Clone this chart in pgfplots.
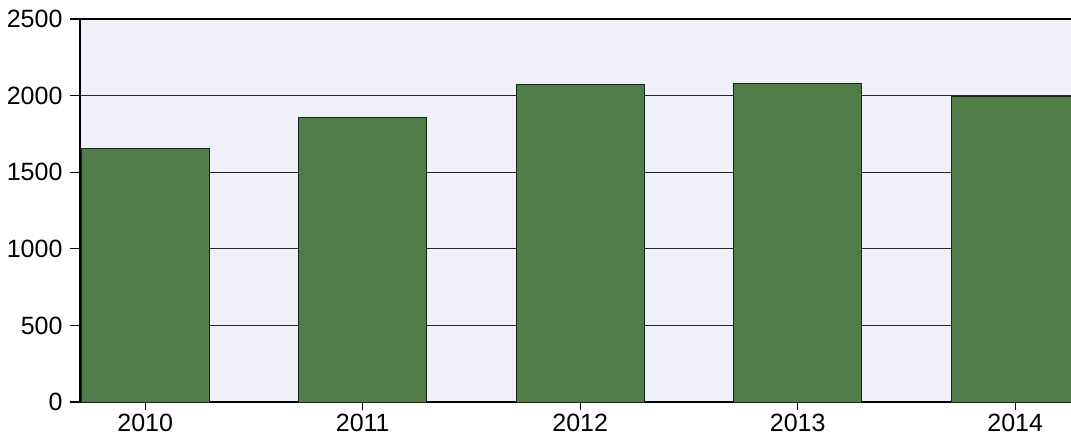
\documentclass[border=0pt]{standalone}
\usepackage{pgfplots}
\pgfplotsset{compat=1.18}
\usepackage{fontspec}
\setmainfont{Liberation Sans}
\definecolor{barg}{RGB}{80,125,72}
\definecolor{bgc}{RGB}{240,240,248}
\definecolor{gridc}{RGB}{40,40,40}
\begin{document}
\begin{tikzpicture}
\begin{axis}[name=ax,
  scale only axis, width=1000pt, height=383pt,
  xmin=-0.3, xmax=4.298, ymin=0, ymax=2500,
  ytick={0,500,1000,1500,2000,2500},
  xtick={0,1,2,3,4}, xticklabels={2010,2011,2012,2013,2014},
  xtick pos=lower, ytick pos=left,
  tick align=outside,
  axis line style={black, line width=1.5pt},
  major tick length=8pt,
  major tick style={black, line width=1.2pt},
  ymajorgrids, grid style={gridc, line width=1.1pt},
  axis background/.style={fill=bgc},
  tick label style={font=\fontsize{25}{28}\selectfont},
  /pgf/number format/assume math mode=true,
  /pgf/number format/1000 sep={},
  yticklabel style={xshift=-6pt},
  xticklabel style={yshift=-1pt},
]
\addplot[ybar, bar width=128pt, fill=barg, draw=black!70!barg, line width=1pt] coordinates {
(0,1655) (1,1860) (2,2075) (3,2082) (4,1995)};
\pgfplotsinvokeforeach{0,500,1000,1500,2000,2500}{\coordinate (yt#1) at (axis cs:-0.3,#1);}
\pgfplotsinvokeforeach{0,1,2,3,4}{\coordinate (xt#1) at (axis cs:#1,0);}
\end{axis}
\foreach \v in {0,500,1000,1500,2000,2500}{\draw[black, line width=1.2pt] (yt\v) -- ++(-10pt,0);}
\foreach \v in {0,1,2,3,4}{\draw[black, line width=1.2pt] (xt\v) -- ++(0,-6pt);}
\pgfresetboundingbox
\path (ax.south west) ++(-80pt,-35pt) rectangle ([xshift=991pt,yshift=402pt]ax.south west);
\end{tikzpicture}
\end{document}
